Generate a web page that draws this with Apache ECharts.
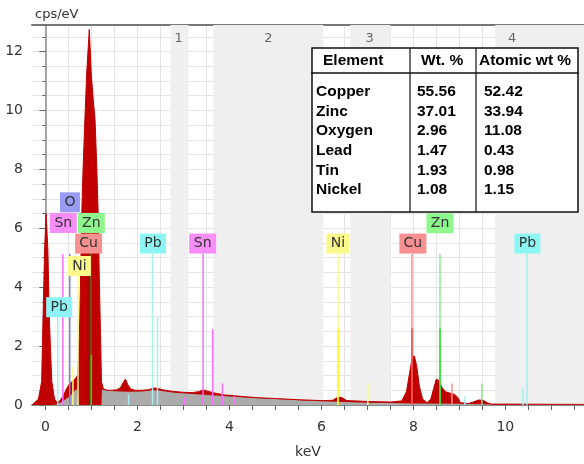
<!DOCTYPE html>
<html>
<head>
<meta charset="utf-8">
<script src="https://cdn.jsdelivr.net/npm/echarts@6/dist/echarts.min.js"></script>
<style>
  html, body { margin: 0; padding: 0; background: #fff; }
  #main { width: 584px; height: 464px; }
</style>
</head>
<body>
<div id="main"></div>
<script>
// measured spectrum, [keV, cps/eV]
const spectrum = [
  [-0.29, 0], [-0.25, 0], [-0.15, 0.2], [-0.08, 0.8], [-0.05, 3.0], [-0.015, 5.3], [0.015, 6.5],
  [0.055, 5.3], [0.085, 3.0], [0.14, 0.8], [0.2, 0.2], [0.26, 0.08], [0.32, 0.15],
  [0.4, 0.35], [0.46, 0.55], [0.52, 0.7], [0.58, 0.8], [0.63, 0.85], [0.67, 0.9],
  [0.7, 1.0], [0.73, 2.0], [0.75, 3.0], [0.77, 4.6], [0.79, 6.4], [0.82, 8.0], [0.86, 9.7],
  [0.9, 11.3], [0.955, 12.75], [1.0, 11.2], [1.04, 10.4], [1.08, 9.7], [1.12, 8.0], [1.15, 6.4],
  [1.17, 4.6], [1.19, 3.05], [1.21, 1.6], [1.22, 0.8], [1.26, 0.55], [1.35, 0.5], [1.45, 0.5],
  [1.55, 0.52], [1.63, 0.58], [1.69, 0.75], [1.74, 0.88],
  [1.79, 0.7], [1.85, 0.55], [1.95, 0.5], [2.1, 0.5], [2.25, 0.52], [2.35, 0.58], [2.45, 0.56],
  [2.6, 0.5], [2.8, 0.46], [3.0, 0.43], [3.2, 0.42], [3.35, 0.46], [3.43, 0.52], [3.52, 0.47],
  [3.7, 0.4], [3.9, 0.34], [4.2, 0.3], [4.6, 0.25], [5.0, 0.22], [5.5, 0.18], [6.0, 0.15],
  [6.25, 0.16], [6.36, 0.27], [6.45, 0.25], [6.55, 0.15], [7.0, 0.12], [7.5, 0.1], [7.75, 0.14],
  [7.85, 0.45], [7.92, 1.1], [7.97, 1.55], [8.02, 1.67], [8.07, 1.35], [8.13, 0.65], [8.2, 0.2],
  [8.3, 0.08], [8.38, 0.2], [8.44, 0.55], [8.5, 0.88], [8.56, 0.82], [8.62, 0.6], [8.7, 0.45],
  [8.8, 0.4], [8.9, 0.36], [8.97, 0.25], [9.02, 0.08], [9.2, 0.05], [9.3, 0.1], [9.42, 0.17],
  [9.52, 0.16], [9.6, 0.08], [9.7, 0.03], [10.0, 0.03], [11.71, 0.02]
];

// fitted background (grey), where it shows
const background = [
  [0.15, 0], [0.25, 0.02], [0.35, 0.1], [0.45, 0.2], [0.55, 0.32], [0.62, 0.45], [0.68, 0.55],
  [0.71, 0.6], [0.72, 0], [1.22, 0], [1.23, 0.52], [1.3, 0.5], [1.5, 0.47], [1.8, 0.45],
  [2.1, 0.46], [2.35, 0.5], [2.5, 0.48], [2.8, 0.42], [3.2, 0.37], [3.6, 0.33], [4.0, 0.29],
  [4.5, 0.24], [5.0, 0.2], [5.5, 0.16], [6.0, 0.13], [6.5, 0.1], [7.0, 0.08], [7.5, 0.07],
  [8.0, 0.05], [9.0, 0.04], [9.7, 0.02], [9.8, 0]
];

// element marker lines [keV, height, element]
const elemLines = [
  [0.27, 3.0, 'Pb'], [0.38, 5.13, 'Sn'], [0.53, 5.13, 'O'], [0.6, 1.3, 'Ni'], [0.71, 4.4, 'Ni'],
  [1.81, 0.35, 'Pb'], [2.33, 5.13, 'Pb'], [2.44, 3.0, 'Pb'],
  [3.03, 0.25, 'Sn'], [3.43, 5.13, 'Sn'], [3.64, 2.57, 'Sn'], [3.85, 0.73, 'Sn'], [4.1, 0.3, 'Sn'],
  [6.36, 5.13, 'Ni'], [7.01, 0.73, 'Ni'], [7.97, 5.13, 'Cu'], [8.58, 5.13, 'Zn'], [8.84, 0.73, 'Cu'],
  [9.12, 0.3, 'Pb'], [9.49, 0.73, 'Zn'], [10.38, 0.55, 'Pb'], [10.47, 5.13, 'Pb']
];
// lines seen through the big L peak (darkened)
const inPeakLines = [[0.93, 5.13, 'Cu'], [0.99, 5.9, 'Zn']];
// stronger K-alpha parts
const strongLines = [[6.36, 2.6, 'Ni'], [7.97, 2.6, 'Cu'], [8.58, 2.6, 'Zn'], [1.0, 1.7, 'Zn']];

// label boxes [keV, cps/eV, element]
const labelBoxes = [
  [0.535, 6.88, 'O'], [0.39, 6.18, 'Sn'], [1.0, 6.18, 'Zn'], [0.94, 5.48, 'Cu'], [0.74, 4.72, 'Ni'],
  [0.3, 3.32, 'Pb'], [2.34, 5.48, 'Pb'], [3.42, 5.48, 'Sn'], [6.36, 5.48, 'Ni'], [7.99, 5.48, 'Cu'],
  [8.58, 6.17, 'Zn'], [10.48, 5.48, 'Pb']
];

// grey regions and their numbers
const bands = [[2.72, 3.11], [3.65, 6.04], [6.63, 7.5], [9.78, 11.71]];
const bandNames = ['1', '2', '3', '4'];
const bandNameX = [2.9, 4.85, 7.05, 10.15];

const xTickValues = [0, 0.5, 1, 1.5, 2, 2.5, 3, 3.5, 4, 4.5, 5, 5.5, 6, 6.5, 7, 7.5, 8, 8.5, 9, 9.5, 10, 10.5, 11, 11.5];
const xLabelValues = [0, 2, 4, 6, 8, 10];

// table
const tableHeader = ['Element', 'Wt. %', 'Atomic wt %'];
const tableElements = ['Copper', 'Zinc', 'Oxygen', 'Lead', 'Tin', 'Nickel'];
const tableWt = ['55.56', '37.01', '2.96', '1.47', '1.93', '1.08'];
const tableAtomic = ['52.42', '33.94', '11.08', '0.43', '0.98', '1.15'];

const boxColor = { O: '#9a9af7', Sn: '#f78ef7', Zn: '#8ef78e', Cu: '#f79090', Ni: '#fafa8c', Pb: '#8ef5f5' };
const boxWidth = { O: 20, Sn: 27, Zn: 27, Cu: 27, Ni: 23, Pb: 26 };
const lineColor = { O: '#7a7aff', Sn: '#ff70ff', Zn: '#8ee88e', Cu: '#ff9090', Ni: '#ffff70', Pb: '#a8eeee' };
const strongColor = { Ni: '#ffff00', Cu: '#ff4040', Zn: '#22dd22' };
const inPeakColor = { Cu: '#9a0a0a', Zn: '#6e5c12' };

const xMin = -0.29, xMax = 11.71, yMax = 12.9;
const FONT = 'DejaVu Sans';

const chart = echarts.init(document.getElementById('main'));

// vertical marker line from 0 up to its height
function elemRender(list, colors, width) {
  return function (params, api) {
    const p0 = api.coord([api.value(0), 0]);
    const p1 = api.coord([api.value(0), api.value(1)]);
    return {
      type: 'line',
      shape: { x1: p0[0], y1: p0[1], x2: p1[0], y2: p1[1] },
      style: { stroke: colors[list[params.dataIndex][2]], lineWidth: width }
    };
  };
}
function lineSeries(list, colors, z) {
  return {
    type: 'custom', z: z, silent: true,
    data: list.map(d => [d[0], d[1]]),
    renderItem: elemRender(list, colors, 1.5)
  };
}

// table graphics
const tbl = [];
tbl.push({ type: 'rect', shape: { x: 312, y: 48, width: 266, height: 164 },
  style: { fill: '#fff', stroke: '#111', lineWidth: 1.5 } });
tbl.push({ type: 'line', shape: { x1: 311, y1: 73, x2: 579, y2: 73 }, style: { stroke: '#111', lineWidth: 1.5 } });
tbl.push({ type: 'line', shape: { x1: 410, y1: 48, x2: 410, y2: 212 }, style: { stroke: '#111', lineWidth: 1.2 } });
tbl.push({ type: 'line', shape: { x1: 476, y1: 48, x2: 476, y2: 212 }, style: { stroke: '#111', lineWidth: 1.2 } });
const tFont = 'bold 15.5px "Liberation Sans", Arial, sans-serif';
const headX = [323, 421, 479];
tableHeader.forEach((t, i) => {
  tbl.push({ type: 'text', x: headX[i], y: 61, style: { text: t, font: tFont, fill: '#000', verticalAlign: 'middle' } });
});
tableElements.forEach((t, i) => {
  const y = 92 + i * 19.6;
  tbl.push({ type: 'text', x: 316, y: y, style: { text: t, font: tFont, fill: '#000', verticalAlign: 'middle' } });
  tbl.push({ type: 'text', x: 417, y: y, style: { text: tableWt[i], font: tFont, fill: '#000', verticalAlign: 'middle' } });
  tbl.push({ type: 'text', x: 484, y: y, style: { text: tableAtomic[i], font: tFont, fill: '#000', verticalAlign: 'middle' } });
});
// y axis unit
tbl.push({ type: 'text', x: 35, y: 15, style: { text: 'cps/eV', font: '13px "DejaVu Sans"', fill: '#333', verticalAlign: 'middle' } });

const option = {
  animation: false,
  backgroundColor: '#fff',
  grid: { left: 32, right: 0, top: 25, bottom: 52.5 },
  xAxis: [
    {
      type: 'value', min: xMin, max: xMax,
      name: 'keV', nameLocation: 'middle', nameGap: 40,
      nameTextStyle: { color: '#333', fontSize: 14, fontFamily: FONT },
      axisLine: { show: true, onZero: false, lineStyle: { color: '#8c8c8c', width: 2 } },
      axisTick: { show: true, customValues: xTickValues, length: 5, lineStyle: { color: '#666' } },
      axisLabel: { customValues: xLabelValues, margin: 15, color: '#333', fontSize: 14, fontFamily: FONT },
      splitLine: { show: true, lineStyle: { color: '#e4e4e4', width: 1 } }
    },
    {
      type: 'value', position: 'top', min: xMin, max: xMax,
      axisLine: { show: true, onZero: false, lineStyle: { color: '#777', width: 2 } },
      axisTick: { show: false }, axisLabel: { show: false }, splitLine: { show: false }
    }
  ],
  yAxis: [
    {
      type: 'value', min: 0, max: yMax, interval: 2,
      axisLine: { show: true, lineStyle: { color: '#888', width: 1.5 } },
      axisTick: { show: true, length: 6, lineStyle: { color: '#666' } },
      axisLabel: { showMaxLabel: false, margin: 9, color: '#333', fontSize: 14, fontFamily: FONT },
      splitLine: { show: false }
    },
    {
      type: 'value', min: 0, max: yMax, interval: 0.5, position: 'left',
      axisLine: { show: false },
      axisTick: { show: true, length: 3, lineStyle: { color: '#666' } },
      axisLabel: { show: false },
      splitLine: { show: true, lineStyle: { color: '#e4e4e4', width: 1 } }
    }
  ],
  series: [
    {
      type: 'line', data: spectrum, symbol: 'none', silent: true, z: 2,
      lineStyle: { width: 0 },
      areaStyle: { color: '#c00000', opacity: 1 },
      markArea: {
        silent: true,
        itemStyle: { color: '#efefef' },
        data: bands.map(b => [{ xAxis: b[0] }, { xAxis: b[1] }])
      }
    },
    {
      type: 'line', data: background, symbol: 'none', silent: true, z: 3,
      lineStyle: { width: 0 },
      areaStyle: { color: '#ababab', opacity: 1 }
    },
    {
      type: 'line', data: spectrum, symbol: 'none', silent: true, z: 4,
      lineStyle: { width: 1, color: '#c00000' }
    },
    lineSeries(elemLines, lineColor, 5),
    lineSeries(inPeakLines, inPeakColor, 5),
    lineSeries(strongLines, strongColor, 5),
    {
      type: 'scatter', z: 6, silent: true,
      symbol: 'rect',
      data: labelBoxes.map(b => ({
        value: [b[0], b[1]], name: b[2],
        symbolSize: [boxWidth[b[2]], 20],
        itemStyle: { color: boxColor[b[2]], opacity: 1 }
      })),
      label: { show: true, position: 'inside', formatter: '{b}', color: '#333', fontSize: 14, fontFamily: FONT }
    },
    {
      type: 'scatter', z: 6, silent: true,
      symbolSize: 0,
      data: bandNames.map((n, i) => ({ value: [bandNameX[i], 12.45], name: n })),
      label: { show: true, position: 'inside', formatter: '{b}', color: '#444', fontSize: 13, fontFamily: FONT }
    }
  ],
  graphic: { elements: tbl.map(e => Object.assign({ z: 100 }, e)) }
};

chart.setOption(option);
</script>
</body>
</html>
